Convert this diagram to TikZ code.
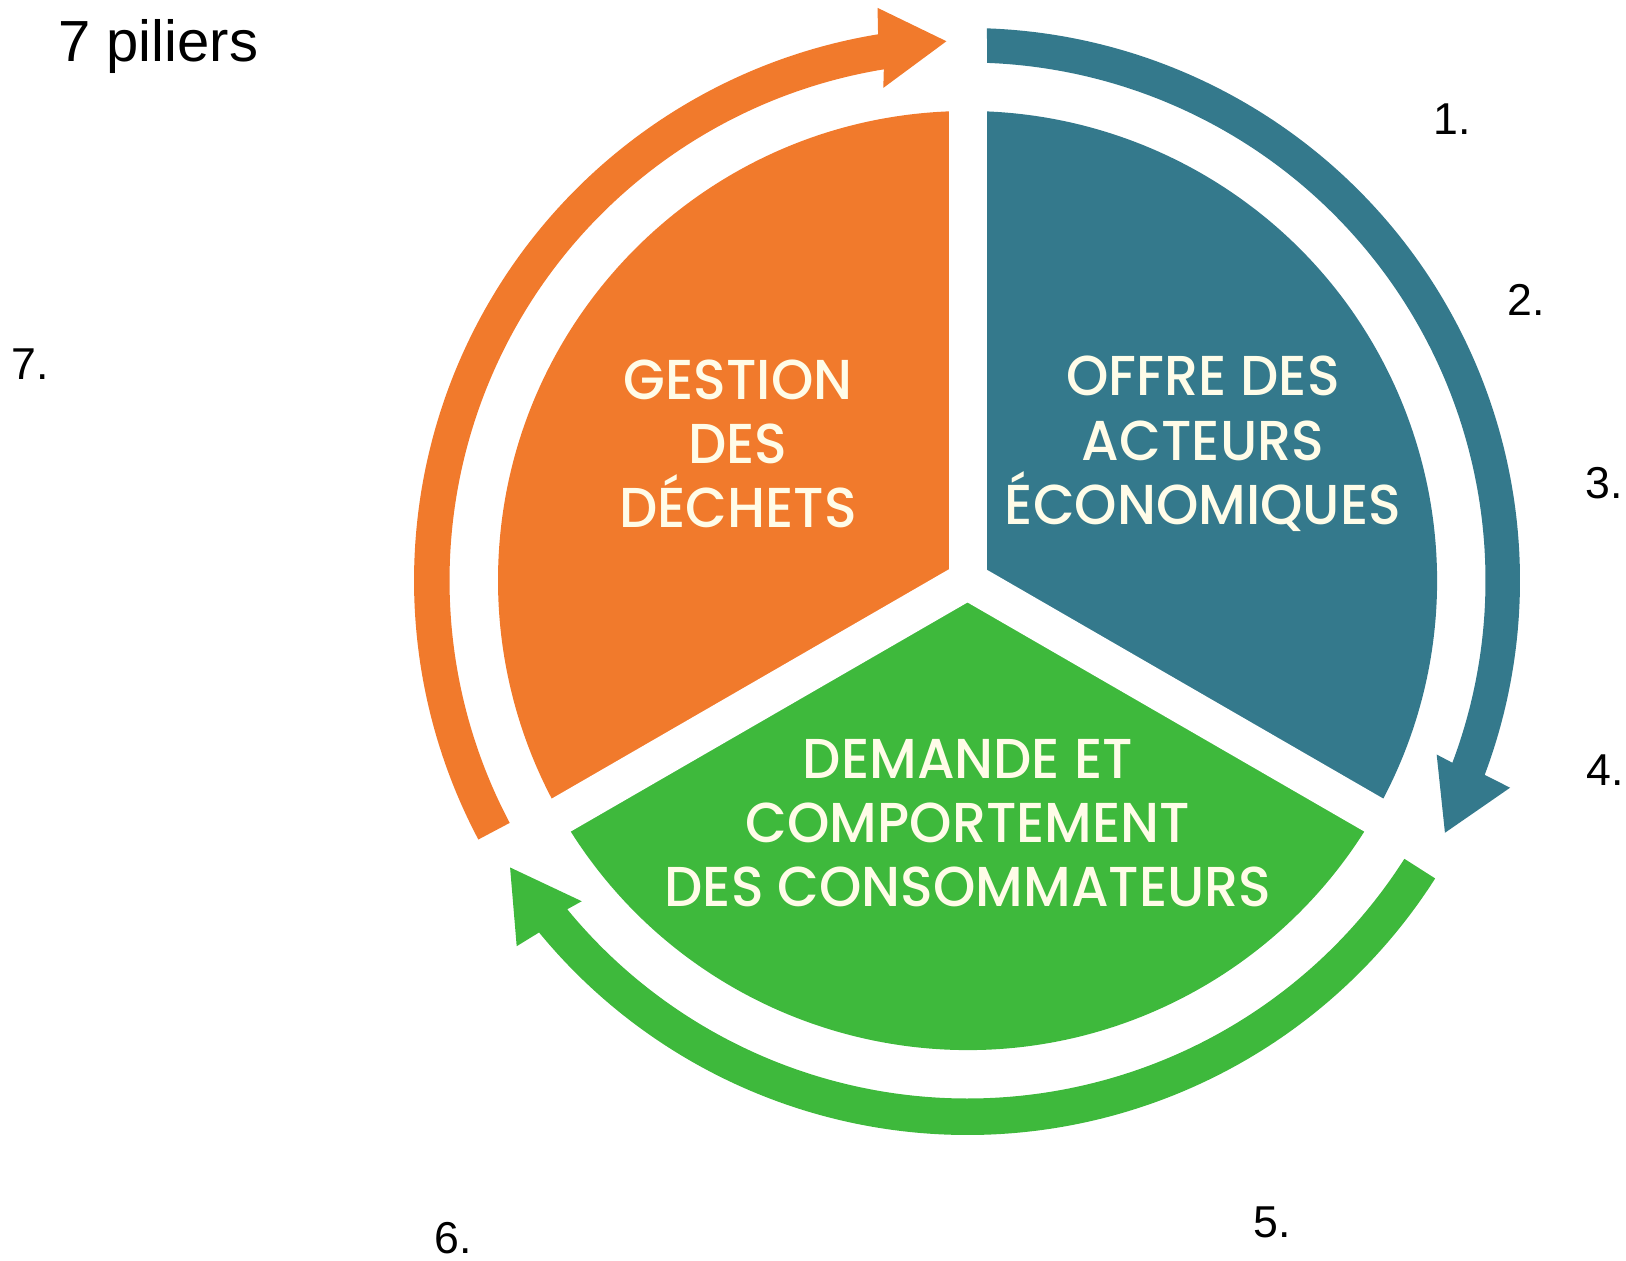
\documentclass[tikz,border=0pt]{standalone}
\usepackage{fontspec}
\newfontfamily\pf{Poppins Medium}[FakeStretch=0.96]
\newfontfamily\af{Liberation Sans}
\definecolor{cOr}{RGB}{241,122,44}
\definecolor{cBl}{RGB}{52,121,140}
\definecolor{cGr}{RGB}{62,185,60}
\definecolor{cTx}{RGB}{255,252,232}
\begin{document}
\begin{tikzpicture}[
  pielabel/.style={text=cTx, align=center, font=\pf\fontsize{16}{18.3}\selectfont, inner sep=0pt},
  numlabel/.style={font=\af\fontsize{12.7}{15}\selectfont, anchor=base west, inner sep=0pt},
  titlelabel/.style={font=\af\fontsize{16.5}{20}\selectfont, anchor=base west, inner sep=0pt},
  gapband/.style={white, line width=0.38cm},
]
\useasboundingbox (0,0) rectangle (16.26,12.6);
\coordinate (C) at (9.675,6.795);
\begin{scope}[shift={(C)}]
  % pie sectors
  \fill[cOr] (0,0) -- (90:4.695) arc[start angle=90,end angle=210,radius=4.695] -- cycle;
  \fill[cBl] (0,0) -- (-30:4.695) arc[start angle=-30,end angle=90,radius=4.695] -- cycle;
  \fill[cGr] (0,0) -- (210:4.695) arc[start angle=210,end angle=330,radius=4.695] -- cycle;
  \draw[gapband] (0,0) -- (90:4.85);
  \draw[gapband] (0,0) -- (210:4.85);
  \draw[gapband] (0,0) -- (330:4.85);
  \fill[white] (0,0) circle[radius=0.18];
  % blue arrow (top -> lower right)
  \fill[cBl] (87.98:5.525) arc[start angle=87.98,end angle=-20.6,radius=5.525]
     -- (-20.9:5.808) -- (-27.85:5.40) -- (-20.35:5.004) -- (-20.6:5.18)
     arc[start angle=-20.6,end angle=87.84,radius=5.18] -- cycle;
  % green arrow (lower right -> lower left)
  \fill[cGr] (-32.5:5.545) arc[start angle=-32.5,end angle=-140.6,radius=5.545]
     -- (-140.95:5.805) -- (-147.9:5.40) -- (-140.26:5.017) -- (-140.6:5.18)
     arc[start angle=-140.6,end angle=-32.5,radius=5.18] -- cycle;
  % orange arrow (lower left -> top)
  \fill[cOr] (207.9:5.535) arc[start angle=207.9,end angle=99.3,radius=5.535]
     -- (98.93:5.797) -- (92.24:5.397) -- (99.7:4.998) -- (99.3:5.18)
     arc[start angle=99.3,end angle=207.9,radius=5.18] -- cycle;
\end{scope}
\node[pielabel] (gestion) at (7.38,8.16) {GESTION\\DES\\DÉCHETS};
\node[pielabel] (offre) at (12.03,8.16) {OFFRE DES\\ACTEURS\\ÉCONOMIQUES};
\node[pielabel] (demande) at (9.68,4.37) {DEMANDE ET\\COMPORTEMENT\\DES CONSOMMATEURS};
\node[titlelabel] (title) at (0.576,11.99) {7 piliers};
\node[numlabel] (n1) at (14.33,11.26) {1.};
\node[numlabel] (n2) at (15.07,9.45) {2.};
\node[numlabel] (n3) at (15.85,7.62) {3.};
\node[numlabel] (n4) at (15.86,4.75) {4.};
\node[numlabel] (n5) at (12.53,0.23) {5.};
\node[numlabel] (n6) at (4.34,0.07) {6.};
\node[numlabel] (n7) at (0.106,8.81) {7.};
\end{tikzpicture}
\end{document}
